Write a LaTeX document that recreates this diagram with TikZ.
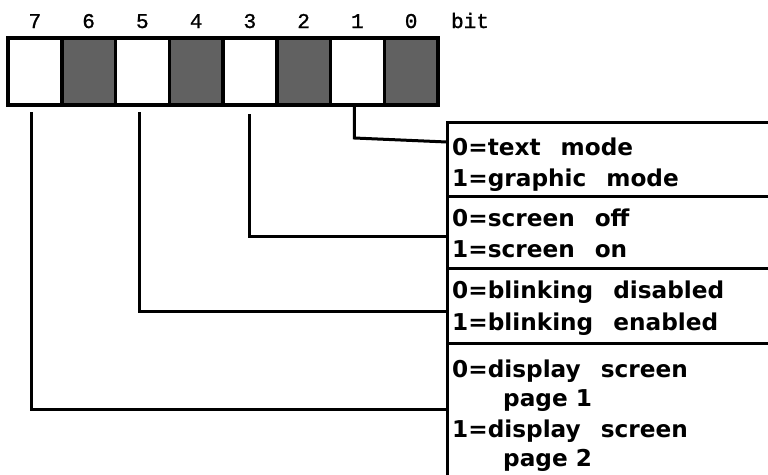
\documentclass[tikz,border=0pt]{standalone}
\usepackage{fontspec}
\newfontfamily\boxfont{DejaVu Sans Bold}
\newfontfamily\bitfont[FakeBold=1.2]{Liberation Mono}
\begin{document}
\begin{tikzpicture}[x=1pt,y=-1pt,
  cell/.style={draw=black,line width=3.5pt,minimum width=53.75pt,minimum height=67pt,inner sep=0pt,outer sep=0pt},
  whitecell/.style={cell,fill=white},
  greycell/.style={cell,fill=black!62},
  bitlbl/.style={font=\bitfont\fontsize{21}{21}\selectfont,anchor=base,inner sep=0pt},
  infobox/.style={draw=black,line width=3pt,inner sep=0pt,outer sep=0pt},
  infotext/.style={font=\boxfont\fontsize{23.2}{23.2}\selectfont,anchor=base west,inner sep=0pt},
  wire/.style={line width=3pt,line cap=rect,line join=miter}]
\useasboundingbox (0,0) rectangle (768,474);
\fill[white] (0,0) rectangle (768,474);
% register cells (bit 7 on the left)
\foreach \b/\s [count=\k from 0] in {7/whitecell,6/greycell,5/whitecell,4/greycell,3/whitecell,2/greycell,1/whitecell,0/greycell}{
  \node[\s] (c\b) at ({8+53.75*\k+26.875},71.5) {};
  \node[bitlbl] (l\b) at ({8+53.75*\k+26.875},28) {\b};
}
\node[bitlbl] (lbit) at (470,28) {bit};
% description boxes (right and bottom edges run past the page)
\node[infobox,minimum width=330pt,minimum height=74pt,anchor=north west] (b1) at (447,122) {};
\node[infobox,minimum width=330pt,minimum height=72pt,anchor=north west] (b2) at (447,196) {};
\node[infobox,minimum width=330pt,minimum height=75pt,anchor=north west] (b3) at (447,268) {};
\node[infobox,minimum width=330pt,minimum height=140pt,anchor=north west] (b4) at (447,343) {};
% texts
\def\gap{\hspace{20pt}}
\node[infotext] (t1a) at (452,155) {0=text\gap mode};
\node[infotext] (t1b) at (452,186) {1=graphic\gap mode};
\node[infotext] (t2a) at (452,226) {0=screen\gap off};
\node[infotext] (t2b) at (452,257) {1=screen\gap on};
\node[infotext] (t3a) at (452,298) {0=blinking\gap disabled};
\node[infotext] (t3b) at (452,330) {1=blinking\gap enabled};
\node[infotext] (t4a) at (452,377) {0=display\gap screen};
\node[infotext] (t4b) at (503,406) {page 1};
\node[infotext] (t4c) at (452,437) {1=display\gap screen};
\node[infotext] (t4d) at (503,466) {page 2};
% connectors
\draw[wire] (c1.south) ++(-3,0) -- ++(0,33) -- (b1.west |- 0,142);
\draw[wire] ([xshift=0pt]c3.south |- 0,115) |- (b2.west |- 0,236);
\draw[wire] ([xshift=-3pt]c5.south |- 0,113) |- (b3.west |- 0,311);
\draw[wire] ([xshift=-3pt]c7.south |- 0,113) |- (b4.west |- 0,409);
\end{tikzpicture}
\end{document}
